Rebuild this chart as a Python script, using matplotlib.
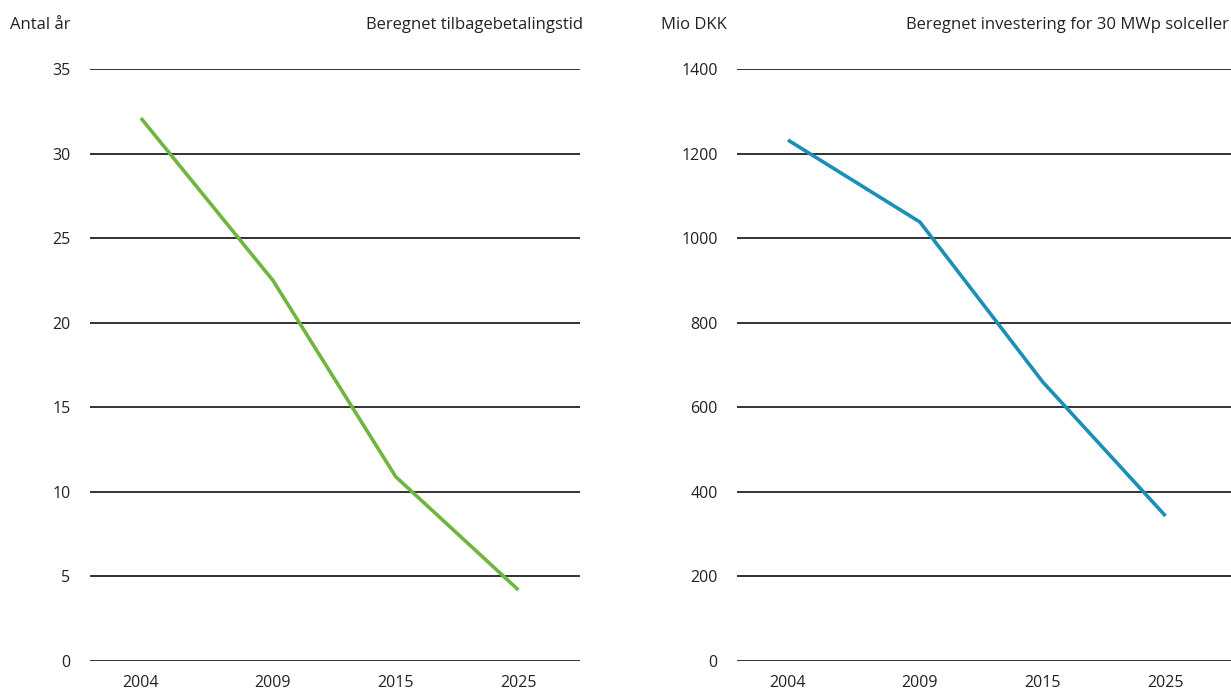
import numpy as np
import matplotlib.pyplot as plt

plt.rcParams['font.family'] = ['Open Sans', 'DejaVu Sans']

years = ['2004', '2009', '2015', '2025']
payback_years = [32.1, 22.5, 10.9, 4.2]
investment_mio = [1232, 1038, 660, 343]

# horizontal placement of the year categories (uneven spacing)
xpos = np.array([0.0, 1.0, 1.93, 2.86])

green = '#6fb640'
blue = '#1b90b6'
txt = '#222222'

fig = plt.figure(figsize=(12.31, 6.9), dpi=100)
ax1 = fig.add_axes([0.0731, 0.042, 0.398, 0.858])
ax2 = fig.add_axes([0.5987, 0.042, 0.4013, 0.858])

panels = [
    (ax1, payback_years, green, np.arange(0, 36, 5), (0, 35), (-0.386, 3.326)),
    (ax2, investment_mio, blue, np.arange(0, 1401, 200), (0, 1400), (-0.386, 3.356)),
]

for ax, vals, col, yt, ylim, xlim in panels:
    ax.plot(xpos, vals, color=col, lw=2.6, solid_capstyle='butt', zorder=3)
    ax.set_xticks(xpos)
    ax.set_xticklabels(years)
    ax.set_yticks(yt)
    ax.set_ylim(*ylim)
    ax.set_xlim(*xlim)
    for v in yt:
        ax.axhline(v, color='#111111', lw=1.2, zorder=1)
    for s in ax.spines.values():
        s.set_visible(False)
    ax.tick_params(length=0, labelsize=11.5, colors=txt)
    ax.tick_params(axis='y', pad=14)
    ax.tick_params(axis='x', pad=10)
    ax.set_facecolor('none')

fig.text(0.008, 0.964, 'Antal år', fontsize=12, color=txt, va='center')
fig.text(0.474, 0.964, 'Beregnet tilbagebetalingstid', fontsize=12, color=txt,
         va='center', ha='right')
fig.text(0.537, 0.964, 'Mio DKK', fontsize=12, color=txt, va='center')
fig.text(0.998, 0.964, 'Beregnet investering for 30 MWp solceller', fontsize=12,
         color=txt, va='center', ha='right')

fig.savefig('out.png', dpi=100, facecolor='white')
